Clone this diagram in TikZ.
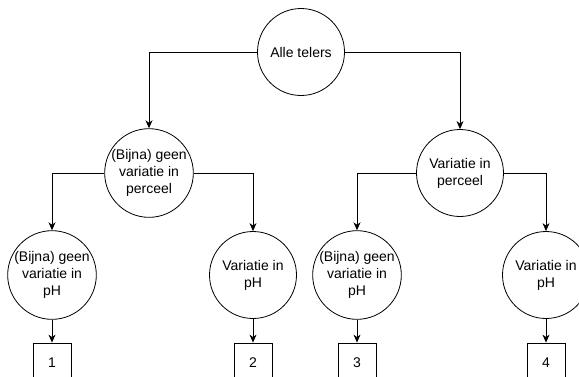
\documentclass[tikz,border=0pt]{standalone}
\usepackage{fontspec}
\setmainfont{Liberation Sans}
\usepackage{tikz}
\usetikzlibrary{arrows.meta}
\usetikzlibrary{positioning}

\begin{document}
\begin{tikzpicture}[x=1pt,y=-1pt]
	\tikzstyle{tak}=[->,>={Stealth[length=8pt,width=7pt,inset=2.5pt]},line width=0.8pt]
	\tikzset{groep/.style={draw,circle,line width=0.8pt,minimum size=87pt,inner sep=0pt,align=center,font=\fontsize{14}{17}\selectfont},
		uitkomst/.style={draw,rectangle,line width=0.8pt,minimum width=38pt,minimum height=40pt,inner sep=0pt,font=\fontsize{14}{17}\selectfont}}
	\useasboundingbox (0,0) rectangle (579,376);
	\node[groep] (a0) at (301,52) {Alle telers};
	\node[groep] (a1) at (149,173) {(Bijna) geen\\variatie in\\perceel};
	\node[groep] (a2) at (460,173) {Variatie in\\perceel};
	\node[groep] (b1) at (52,275) {(Bijna) geen\\variatie in\\pH};
	\node[groep] (b2) at (253,275) {Variatie in\\pH};
	\node[groep] (b3) at (357,275) {(Bijna) geen\\variatie in\\pH};
	\node[groep] (b4) at (546,275) {Variatie in\\pH};
	\node[uitkomst] (c1) at (52,363) {1};
	\node[uitkomst] (c2) at (253,363) {2};
	\node[uitkomst] (c3) at (357,363) {3};
	\node[uitkomst] (c4) at (546,363) {4};
	\draw[tak] (a0.west) -| (a1);
	\draw[tak] (a0.east) -| (a2);
	\draw[tak] (a1.west) -| (b1);
	\draw[tak] (a1.east) -| (b2);
	\draw[tak] (a2.west) -| (b3);
	\draw[tak] (a2.east) -| (b4);
	\draw[tak] (b1) -- (c1);
	\draw[tak] (b2) -- (c2);
	\draw[tak] (b3) -- (c3);
	\draw[tak] (b4) -- (c4);
\end{tikzpicture}
\end{document}
